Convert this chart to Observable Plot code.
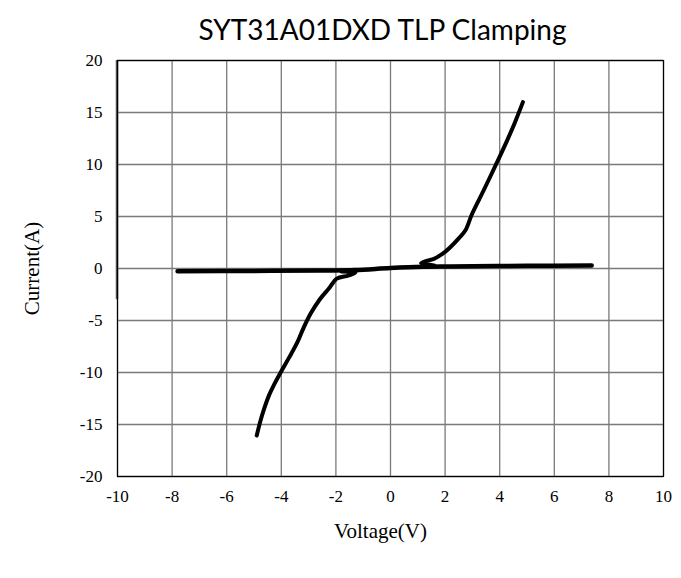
<!DOCTYPE html>
<html>
<head>
<meta charset="utf-8">
<script src="https://cdn.jsdelivr.net/npm/d3@7"></script>
<script src="https://cdn.jsdelivr.net/npm/@observablehq/plot@0.6"></script>
<style>
  html, body { margin: 0; padding: 0; background: #fff; }
  #wrap { width: 681px; height: 578px; position: relative; }
  #title { position: absolute; left: 0; top: 7px; width: 681px; text-align: center; padding-left: 84px; box-sizing: border-box;
           font-family: Lato, "Open Sans", sans-serif; font-size: 28px; color: #000; line-height: 44px; }
  #chart { position: absolute; left: 0; top: 48px; }
</style>
</head>
<body>
<div id="wrap">
  <div id="title">SYT31A01DXD TLP Clamping</div>
  <div id="chart"></div>
</div>
<script>
const xTicks = [-10, -8, -6, -4, -2, 0, 2, 4, 6, 8, 10];
const yTicks = [-20, -15, -10, -5, 0, 5, 10, 15, 20];

// Positive TLP branch (starts with the hook on the leakage trace)
const posV = [1.60, 1.12, 1.35, 1.59, 1.90, 2.19, 2.50, 2.74, 2.99, 3.41, 3.90, 4.27, 4.55, 4.85];
const posI = [0.30, 0.50, 0.75, 0.93, 1.40, 2.05, 2.90, 3.65, 5.26, 7.50, 10.2, 12.3, 14.0, 16.0];

// Negative TLP branch (starts with the hook on the leakage trace)
const negV = [-1.80, -1.28, -1.55, -1.97, -2.25, -2.60, -2.93, -3.20, -3.41, -3.70, -4.02, -4.25, -4.45, -4.63, -4.78, -4.90];
const negI = [-0.30, -0.40, -0.68, -0.98, -1.90, -3.00, -4.36, -5.80, -7.08, -8.50, -9.97, -11.1, -12.2, -13.5, -14.8, -16.06];

// Leakage trace
const leakV = [-7.80, -5.0, -2.56, -1.30, 0.0, 1.20, 2.19, 5.0, 7.37];
const leakI = [-0.26, -0.23, -0.19, -0.15, 0.05, 0.17, 0.20, 0.26, 0.29];

// Dark segment along the left edge of the plot (x = -10)
const edgeV = [-10];
const edgeI = [20, -3];

const toRows = (xs, ys) => xs.map((v, i) => ({v, i: ys[i]}));
const pos = toRows(posV, posI);
const neg = toRows(negV, negI);
const leak = toRows(leakV, leakI);

const serif = '"Liberation Serif", "Times New Roman", serif';
const fmt = d => String(d);

const chart = Plot.plot({
  width: 681,
  height: 530,
  marginTop: 12,
  marginLeft: 117,
  marginRight: 18,
  marginBottom: 102,
  style: { fontFamily: serif, fontSize: "17px", color: "#000", background: "#fff" },
  x: { domain: [-10, 10], ticks: xTicks, tickSize: 0, label: null },
  y: { domain: [-20, 20], ticks: yTicks, tickSize: 0, label: null },
  marks: [
    Plot.gridX(xTicks, { stroke: "#7a7a7a", strokeOpacity: 1, strokeWidth: 1.3 }),
    Plot.gridY(yTicks, { stroke: "#7a7a7a", strokeOpacity: 1, strokeWidth: 1.3 }),
    Plot.ruleX(edgeV, { y1: edgeI[0], y2: edgeI[1], stroke: "#555", strokeWidth: 2.5, dx: -0.5 }),
    Plot.frame({ stroke: "#000", strokeWidth: 1.2 }),
    Plot.axisX({ ticks: xTicks, tickSize: 0, tickPadding: 13, fontSize: 17, tickFormat: fmt, label: null }),
    Plot.axisY({ ticks: yTicks, tickSize: 0, tickPadding: 15, fontSize: 17, tickFormat: fmt, label: null }),
    Plot.line(leak, { x: "v", y: "i", stroke: "#000", strokeWidth: 4.5, curve: "catmull-rom", strokeLinecap: "round", strokeLinejoin: "round" }),
    Plot.line(pos, { x: "v", y: "i", stroke: "#000", strokeWidth: 4, curve: "catmull-rom", strokeLinecap: "round", strokeLinejoin: "round" }),
    Plot.line(neg, { x: "v", y: "i", stroke: "#000", strokeWidth: 4, curve: "catmull-rom", strokeLinecap: "round", strokeLinejoin: "round" }),
    Plot.text(["Voltage(V)"], { frameAnchor: "bottom", dy: 61, dx: -10, fontSize: 21, fontFamily: serif }),
    Plot.text(["Current(A)"], { frameAnchor: "left", dx: -85, rotate: -90, textAnchor: "middle", fontSize: 21, fontFamily: serif })
  ]
});
document.getElementById("chart").appendChild(chart);
</script>
</body>
</html>
